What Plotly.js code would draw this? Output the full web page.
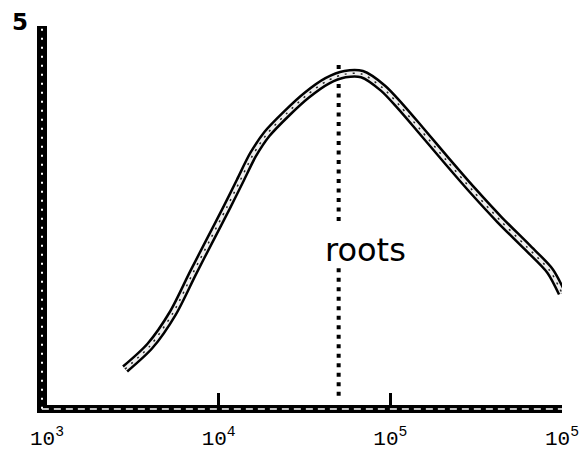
<!DOCTYPE html>
<html>
<head>
<meta charset="utf-8">
<script src="https://cdn.plot.ly/plotly-3.0.1.min.js"></script>
<style>
  html, body { margin: 0; padding: 0; background: #fff; }
  #chart { width: 588px; height: 450px; }
</style>
</head>
<body>
<div id="chart"></div>
<script>
// Log-scale decades along the bottom axis and their printed labels
const decadeTicks = [1e3, 1e4, 1e5, 1e6];
const decadeLabels = ['10<sup>3</sup>', '10<sup>4</sup>', '10<sup>5</sup>', '10<sup>5</sup>'];

// Response curve S against x
const curveX = [2850, 3980, 5420, 7080, 8890, 11170, 13300, 15840, 19100, 24990,
                32680, 42730, 54440, 68400, 90600, 113800, 148700, 213600, 302900,
                434700, 624600, 850700, 1000000];
const curveY = [9.5, 15.6, 24.3, 34.8, 43.5, 52.2, 59.1, 66.0, 71.5, 77.0,
                81.8, 85.5, 87.3, 87.3, 83.6, 78.9, 72.8, 64.4, 56.5,
                48.8, 41.7, 35.4, 29.5];

// Position of the "roots" marker line, and its two dotted runs
const rootsX = 5e4;
const rootsUpper = [89.7, 47.5];
const rootsLower = [36.1, 1.3];
const rootsLabel = 'roots';
const rootsLabelAt = [72100, 41.0];
const yLabel = '5';

const dotted = {
  x: [rootsX, rootsX, null, rootsX, rootsX],
  y: [rootsUpper[0], rootsUpper[1], null, rootsLower[0], rootsLower[1]],
  mode: 'lines',
  line: { color: '#000', width: 4, dash: '4px,5.5px' },
  hoverinfo: 'skip'
};

// Thick hand-inked stroke: dark outline, pale core, speckle
const lineShape = { shape: 'spline', smoothing: 0.8 };
const outline = {
  x: curveX, y: curveY, mode: 'lines',
  line: Object.assign({ color: '#000', width: 9 }, lineShape),
  cliponaxis: false, hoverinfo: 'skip'
};
const core = {
  x: curveX, y: curveY, mode: 'lines',
  line: Object.assign({ color: '#eeeeee', width: 4 }, lineShape),
  cliponaxis: false, hoverinfo: 'skip'
};
const speckle = {
  x: curveX, y: curveY, mode: 'lines',
  line: Object.assign({ color: '#222', width: 1.5, dash: '2px,6px' }, lineShape),
  cliponaxis: false, hoverinfo: 'skip'
};

const W = 588, H = 450;
const M = { l: 47, r: 26, t: 26, b: 45 };
const plotW = W - M.l - M.r, plotH = H - M.t - M.b;

const layout = {
  width: W, height: H,
  margin: M,
  paper_bgcolor: '#fff', plot_bgcolor: '#fff',
  showlegend: false,
  font: { family: 'Liberation Mono, monospace', color: '#000' },
  xaxis: {
    type: 'log', range: [3, 6],
    tickvals: decadeTicks, ticktext: decadeLabels,
    ticks: 'inside', ticklen: 12, tickwidth: 3, tickcolor: '#000',
    showline: true, linecolor: '#000', linewidth: 8,
    showgrid: false, zeroline: false,
    tickfont: { family: 'Liberation Mono, monospace', size: 21, color: '#000' },
    ticklabelstandoff: 7
  },
  yaxis: {
    range: [0, 100],
    showline: true, linecolor: '#000', linewidth: 10,
    showgrid: false, zeroline: false,
    showticklabels: false, ticks: ''
  },
  // worn ink along the two axis strokes
  shapes: [
    {
      type: 'line', xref: 'paper', yref: 'paper', layer: 'above',
      x0: -5 / plotW, x1: -5 / plotW, y0: -0.01, y1: 1.0,
      line: { color: '#fff', width: 2, dash: '2px,7px' }
    },
    {
      type: 'line', xref: 'paper', yref: 'paper', layer: 'above',
      x0: -0.01, x1: 1.0, y0: -4 / plotH, y1: -4 / plotH,
      line: { color: '#fff', width: 1.5, dash: '7px,5px' }
    }
  ],
  annotations: [
    {
      x: Math.log10(rootsLabelAt[0]), y: rootsLabelAt[1], xref: 'x', yref: 'y',
      text: rootsLabel, showarrow: false,
      font: { family: 'DejaVu Sans, sans-serif', size: 32, color: '#000' }
    },
    {
      x: (20 - M.l) / plotW, y: 1 + (M.t - 22) / plotH,
      xref: 'paper', yref: 'paper',
      xanchor: 'center', yanchor: 'middle',
      text: '<b>' + yLabel + '</b>', showarrow: false,
      font: { family: 'DejaVu Sans, sans-serif', size: 23, color: '#000' }
    }
  ]
};

Plotly.newPlot('chart', [dotted, outline, core, speckle], layout, { staticPlot: true });
</script>
</body>
</html>
